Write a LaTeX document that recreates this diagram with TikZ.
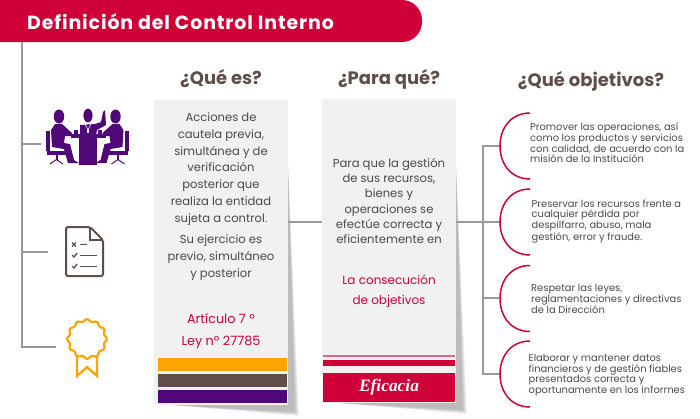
\documentclass[tikz,border=0pt]{standalone}
\usepackage{fontspec}
\setmainfont{Poppins}
\newfontfamily\slabfont{Liberation Serif}
\definecolor{rojo}{HTML}{CE0037}
\definecolor{marron}{HTML}{5E4F4A}
\definecolor{naranja}{HTML}{FFA300}
\definecolor{morado}{HTML}{500778}
\definecolor{gris}{HTML}{999999}
\definecolor{papel}{HTML}{F1F1F1}
\definecolor{texto}{HTML}{4A4A4A}
\newcommand{\seatedfig}{
    \fill[morado] (59,116.5) ellipse (5.2 and 7);
    \fill[morado] (55,124) -- (62,124) -- (72,133) -- (71,136) -- (65,136) -- (64,143) -- (70,144)
      -- (74,160) -- (79,163) -- (68,163) -- (64,149) -- (52,147) -- (51,130) -- cycle;
    \fill[morado] (46,131) rectangle (49.5,151);
    \fill[morado] (47,151) rectangle (66,155);
    \fill[morado] (55.5,155) rectangle (57.5,160);
    \draw[morado,line width=1pt] (50,164) -- (56.5,159.5) -- (63,164);
}
\tikzset{
  cardbox/.style={fill=papel,minimum width=134pt,minimum height=305pt,inner sep=0pt},
  branch/.style={color=gris,line width=1.6pt},
  heading/.style={color=marron,font=\fontsize{18}{21}\selectfont\bfseries},
  cardtext/.style={color=texto,align=center,inner sep=0pt,font=\fontsize{11.6}{16.8}\selectfont},
  redtext/.style={color=rojo,align=center,inner sep=0pt},
  itemtext/.style={color=texto,align=left,inner sep=0pt,anchor=west,font=\fontsize{9.9}{10.1}\selectfont},
  arcred/.style={color=rojo,line width=1.5pt},
}
\begin{document}
\begin{tikzpicture}[x=1pt,y=-1pt]
\useasboundingbox (0,0) rectangle (700,418);
% cabecera
\fill[rojo] (0,0) [rounded corners=20pt] -- (422,0) -- (422,42) [sharp corners] -- (0,42) -- cycle;
\node[anchor=west,inner sep=0pt,text=white,font=\fontsize{19}{22}\selectfont\bfseries\addfontfeatures{LetterSpace=4.5}] (titulo) at (27,22) {Definici\'on del Control Interno};
% linea izquierda
\coordinate (troncoA) at (22,42);
\coordinate (ramaA) at (41,144);
\coordinate (ramaB) at (48,252);
\coordinate (ramaC) at (56,347);
\draw[branch] (troncoA) -- (troncoA |- ramaC) -- (ramaC);
\draw[branch] (troncoA |- ramaA) -- (ramaA);
\draw[branch] (troncoA |- ramaB) -- (ramaB);
% sombras
\foreach \d in {0,1,2,3,4} {
  \fill[black,opacity=0.06] (288,165) -- (299-\d,416-\d) -- (170,405) -- (288,400) -- cycle;
  \fill[black,opacity=0.06] (456,165) -- (467-\d,414-\d) -- (338,403) -- (456,398) -- cycle;
}
% tarjetas
\node[cardbox] (quees) at (221,252.5) {};
\node[cardbox,minimum height=304pt] (parque) at (389,251) {};
\node[heading] (hquees) at (221,79) {¿Qu\'e es?};
\node[heading] (hparque) at (389,79) {¿Para qu\'e?};
\node[heading] (hobjetivos) at (591,81) {¿Qu\'e objetivos?};
\node[cardtext] (txtquees) at (221,169) {Acciones de\\cautela previa,\\simult\'anea y de\\verificaci\'on\\posterior que\\realiza la entidad\\sujeta a control.};
\node[cardtext] (txtejercicio) at (221,257.5) {Su ejercicio es\\previo, simult\'aneo\\y posterior};
\node[redtext,font=\fontsize{12.8}{22}\selectfont] (txtley) at (221,331.5) {Art\'iculo 7 º\\Ley nº 27785};
\node[cardtext,font=\fontsize{11.6}{15.2}\selectfont] (txtparque) at (389,201) {Para que la gesti\'on\\de sus recursos,\\bienes y\\operaciones se\\efect\'ue correcta y\\eficientemente en};
\node[redtext,font=\fontsize{12}{20}\selectfont] (txtmeta) at (389,291) {La consecuci\'on\\de objetivos};
% barras
\fill[naranja] (158,358) rectangle (287,371);
\fill[marron] (158,374) rectangle (287,387);
\fill[morado] (158,390) rectangle (287,403);
\fill[rojo!60] (323,355) rectangle (455,357);
\fill[rojo] (323,360) rectangle (455,366);
\node[fill=rojo,minimum width=132pt,minimum height=29pt,inner sep=0pt,text=white,font=\slabfont\fontsize{17.4}{20}\selectfont\bfseries\itshape] (eficacia) at (389,387.5) {Eficacia};
% conectores
\coordinate (enlace) at (483,222);
\draw[branch] (quees.east |- enlace) -- (parque.west |- enlace);
\draw[branch] (parque.east |- enlace) -- (enlace);
\coordinate (arcoA) at (500,146);
\coordinate (arcoB) at (500,222);
\coordinate (arcoC) at (499,298);
\coordinate (arcoD) at (500,374);
\draw[branch] (arcoA) -- (enlace |- arcoA) -- (enlace |- arcoD) -- (arcoD);
\draw[branch] (enlace) -- (arcoB);
\draw[branch] (enlace |- arcoC) -- (arcoC);
\foreach \y in {146,222,298.5,374} {
  \draw[arcred] (530,\y-33) .. controls (511,\y-33) and (500,\y-18) .. (500,\y) .. controls (500,\y+18) and (511,\y+33) .. (530,\y+33);
}
\node[itemtext] (itemA) at (530,143) {Promover las operaciones, as\'i\\como los productos y servicios\\con calidad, de acuerdo con la\\misi\'on de la Instituci\'on};
\node[itemtext] (itemB) at (531.5,221.5) {Preservar los recursos frente a\\cualquier p\'erdida por\\despilfarro, abuso, mala\\gesti\'on, error y fraude.};
\node[itemtext] (itemC) at (531,299) {Respetar las leyes,\\reglamentaciones y directivas\\de la Direcci\'on};
\node[itemtext] (itemD) at (528.5,375) {Elaborar y mantener datos\\financieros y de gesti\'on fiables\\presentados correcta y\\oportunamente en los informes};
% reunion
\seatedfig
\begin{scope}[xshift=174.5pt,xscale=-1]
  \seatedfig
\end{scope}
\fill[morado] (88,115.5) ellipse (4.6 and 6.8);
\fill[morado] (80,125) -- (95,124) -- (101,122) -- (103,112) -- (105,110) -- (106,125) -- (97,130) -- (96,135) -- (80,135) -- cycle;
\draw[white,line width=0.6pt] (85,124) -- (88,130) -- (91,124);
\fill[white] (87,129) rectangle (89,133);
\fill[morado] (71,134) rectangle (106,138);
\fill[morado] (79,138) rectangle (97,165);
\fill[morado] (74,130) rectangle (78,134);
\fill[morado] (98,130) rectangle (102,134);
% documento
\draw[marron,line width=2pt,rounded corners=2pt] (90,227) -- (66,227) -- (66,276) -- (103,276) -- (103,240) -- cycle;
\draw[marron,line width=1.4pt] (90,227) -- (90,240) -- (103,240);
\draw[marron,line width=1.3pt] (72,242.5) -- (76,246.5) (76,242.5) -- (72,246.5);
\draw[marron,line width=1.8pt] (80,244.5) -- (87,244.5);
\draw[marron,line width=1.3pt] (72,255) -- (74,257) -- (77,253);
\draw[marron,line width=1.8pt] (80,255.5) -- (97,255.5);
\draw[marron,line width=1.3pt] (72,266) -- (74,268) -- (77,264);
\draw[marron,line width=1.8pt] (80,266.5) -- (97,266.5);
% premio
\draw[naranja,line width=2.2pt,smooth,samples=97,domain=0:360] plot ({87+(18.7+1.1*cos(12*\x))*cos(\x)},{339+(18.7+1.1*cos(12*\x))*sin(\x)}) -- cycle;
\draw[naranja,line width=2.2pt] (77,356) -- (77,376) -- (87,367) -- (97,376) -- (97,356);
\end{tikzpicture}
\end{document}
